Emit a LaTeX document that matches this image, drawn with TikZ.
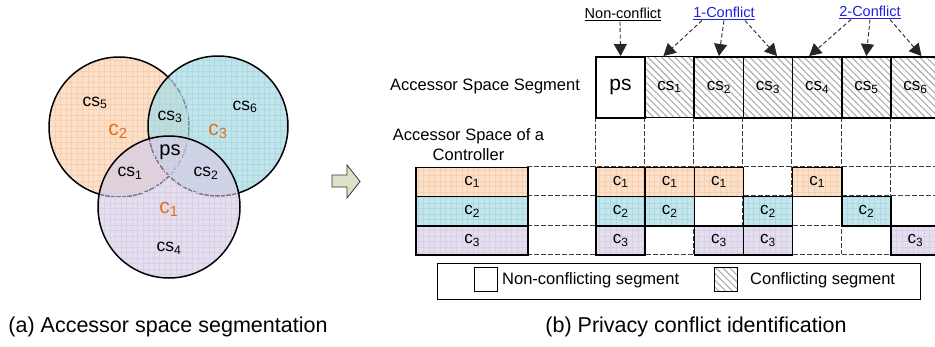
\documentclass[tikz,border=0pt]{standalone}
\usepackage{fontspec}
\setmainfont{Liberation Sans}
\usetikzlibrary{patterns.meta,arrows.meta,calc}
\definecolor{orfill}{HTML}{FDE0C8}
\definecolor{cyfill}{HTML}{C2E6EC}
\definecolor{pufill}{HTML}{E4DEEE}
\definecolor{orgrid}{HTML}{F7CFB2}
\definecolor{cygrid}{HTML}{AED9E1}
\definecolor{pugrid}{HTML}{D8D0E6}
\definecolor{cyvenn}{HTML}{A8DBE4}
\definecolor{puvenn}{HTML}{D2C8E3}
\definecolor{ortext}{HTML}{E0701E}
\definecolor{linkblue}{HTML}{2020E0}
\definecolor{arrowfill}{HTML}{DCE2C8}
\newcommand\sbs[1]{\textsubscript{#1}}
\newcommand\fs[1]{\fontsize{#1}{#1}\selectfont}
\tikzset{
  gridpat/.style={pattern={Hatch[angle=0,distance=5.5pt,line width=0.35pt]},pattern color=#1},
  hatch/.style={pattern={Lines[angle=-45,distance=4.8pt,line width=1.1pt]},pattern color=black!32},
  segbox/.style={draw=black,line width=1.6pt,minimum width=49.15pt,minimum height=61pt,inner sep=0pt,anchor=north west,font=\fs{17}},
  rowbox/.style={line width=1.6pt,minimum width=49.15pt,minimum height=29.3pt,inner sep=0pt,anchor=north west,font=\fs{17}},
  leftbox/.style={line width=1.6pt,minimum width=111.9pt,minimum height=29.3pt,inner sep=0pt,anchor=north west,font=\fs{17}},
  ctl1/.style={preaction={fill=orfill},gridpat=orgrid,draw=black},
  ctl2/.style={preaction={fill=cyfill},gridpat=cygrid,draw=black},
  ctl3/.style={preaction={fill=pufill},gridpat=pugrid,draw=black},
  gridline/.style={draw=black!75,line width=0.8pt,dash pattern=on 4.5pt off 2.5pt},
  conn/.style={draw=black!85,line width=0.9pt,dash pattern=on 4pt off 2.5pt,-{Triangle[width=13pt,length=12pt]}},
  toplab/.style={font=\fs{14.5},inner sep=1pt},
  venncs/.style={font=\fs{17.5},inner sep=0pt},
  vennc/.style={font=\fs{21},text=ortext,inner sep=0pt},
  caption/.style={font=\fs{21.5},inner sep=0pt},
  plain/.style={font=\fs{16.5},inner sep=0pt},
}
\begin{document}
\begin{tikzpicture}[x=1pt,y=-1pt]
\useasboundingbox (0,0) rectangle (935,346);
\clip (0,0) rectangle (935,346);
\fill[white] (0,0) rectangle (935,346);

% ---------- (a) Venn diagram ----------
\path[fill=orfill] (119,127) circle[radius=70];
\path[gridpat=orgrid] (119,127) circle[radius=70];
\draw[line width=1.5pt] (119,127) circle[radius=70];
\begin{scope}[fill opacity=0.7]
\path[fill=cyvenn] (218,126) circle[radius=70];
\path[gridpat=cygrid] (218,126) circle[radius=70];
\end{scope}
\draw[line width=1.5pt] (218,126) circle[radius=70];
\begin{scope}[fill opacity=0.6]
\path[fill=puvenn] (169,207) circle[radius=71];
\path[gridpat=pugrid] (169,207) circle[radius=71];
\end{scope}
\draw[line width=1.5pt] (169,207) circle[radius=71];

\node[venncs] (v5) at (95,103) {cs\sbs{5}};
\node[vennc]  (vc2) at (118,131) {c\sbs{2}};
\node[venncs] (v3) at (170,117) {cs\sbs{3}};
\node[vennc]  (vc3) at (218,131) {c\sbs{3}};
\node[venncs] (v6) at (245,107) {cs\sbs{6}};
\node[font=\fs{20},inner sep=0pt] (vps) at (170,152) {ps};
\node[venncs] (v1) at (130,173) {cs\sbs{1}};
\node[venncs] (v2) at (206,173) {cs\sbs{2}};
\node[vennc]  (vc1) at (169,209) {c\sbs{1}};
\node[venncs] (v4) at (169,248) {cs\sbs{4}};

\node[caption] (capa) at (168,327) {(a) Accessor space segmentation};

% ---------- block arrow ----------
\draw[fill=arrowfill,draw=black!80,line width=0.8pt,line join=miter]
  (332,175) -- (347,175) -- (347,165) -- (360,181.5) -- (347,198) -- (347,187) -- (332,187) -- cycle;

% ---------- (b) dashed guide lines ----------
\foreach \i in {0,...,7}
  \draw[gridline] (595.2+49.15*\i,117) -- (595.2+49.15*\i,254.4);
\foreach \yy in {166.5,195.8,225.1,254.4}
  \draw[gridline] (527.3,\yy) -- (940,\yy);

% ---------- segment row ----------
\node[segbox,fill=white,font=\fs{21}] (ps) at (595.2,56) {ps};
\node[segbox,hatch] (s1) at (644.35,56) {cs\sbs{1}};
\node[segbox,hatch] (s2) at (693.5,56) {cs\sbs{2}};
\node[segbox,hatch] (s3) at (742.65,56) {cs\sbs{3}};
\node[segbox,hatch] (s4) at (791.8,56) {cs\sbs{4}};
\node[segbox,hatch] (s5) at (840.95,56) {cs\sbs{5}};
\node[segbox,hatch] (s6) at (890.1,56) {cs\sbs{6}};

% ---------- controller rows ----------
\node[leftbox,ctl1] (L1) at (415.4,166.5) {c\sbs{1}};
\node[leftbox,ctl2] (L2) at (415.4,195.8) {c\sbs{2}};
\node[leftbox,ctl3] (L3) at (415.4,225.1) {c\sbs{3}};

\foreach \i in {0,1,2,4}
  \node[rowbox,ctl1] (ra\i) at (595.2+49.15*\i,166.5) {c\sbs{1}};
\foreach \i in {0,1,3,5}
  \node[rowbox,ctl2] (rb\i) at (595.2+49.15*\i,195.8) {c\sbs{2}};
\foreach \i in {0,2,3,6}
  \node[rowbox,ctl3] (rc\i) at (595.2+49.15*\i,225.1) {c\sbs{3}};

% ---------- labels ----------
\node[plain] (lseg) at (485,86) {Accessor Space Segment};
\node[plain,align=center] (lctl) at (468.5,145) {Accessor Space of a\\[3.5pt]Controller};

\node[toplab] (nc) at (623,14) {\underline{Non-conflict}};
\node[toplab,text=linkblue] (k1) at (724,13) {\underline{1-Conflict}};
\node[toplab,text=linkblue] (k2) at (870,12) {\underline{2-Conflict}};

\draw[conn] ([xshift=-3pt]nc.south) -- (ps.north);
\draw[conn] ([xshift=-22pt]k1.south) -- ([xshift=-6pt]s1.north);
\draw[conn] (k1.south) -- (s2.north);
\draw[conn] ([xshift=21pt]k1.south) -- ([xshift=9pt]s3.north);
\draw[conn] ([xshift=-19pt]k2.south) -- ([xshift=-8pt]s4.north);
\draw[conn] (k2.south) -- (s5.north);
\draw[conn] ([xshift=20pt]k2.south) -- ([xshift=6pt]s6.north);

% ---------- legend ----------
\node[draw=black,line width=0.9pt,minimum width=483.2pt,minimum height=36pt,inner sep=0pt,anchor=north west] (leg) at (436.6,263) {};
\node[draw=black,line width=1pt,minimum width=23pt,minimum height=23.5pt,inner sep=0pt] (lg1) at (485.5,279.7) {};
\node[plain,anchor=west] (lt1) at (502,280.5) {Non-conflicting segment};
\node[draw=black,line width=1pt,hatch,minimum width=23pt,minimum height=23.5pt,inner sep=0pt] (lg2) at (726,279.7) {};
\node[plain,anchor=west] (lt2) at (750,280.5) {Conflicting segment};

\node[caption] (capb) at (696,327) {(b) Privacy conflict identification};
\end{tikzpicture}
\end{document}
